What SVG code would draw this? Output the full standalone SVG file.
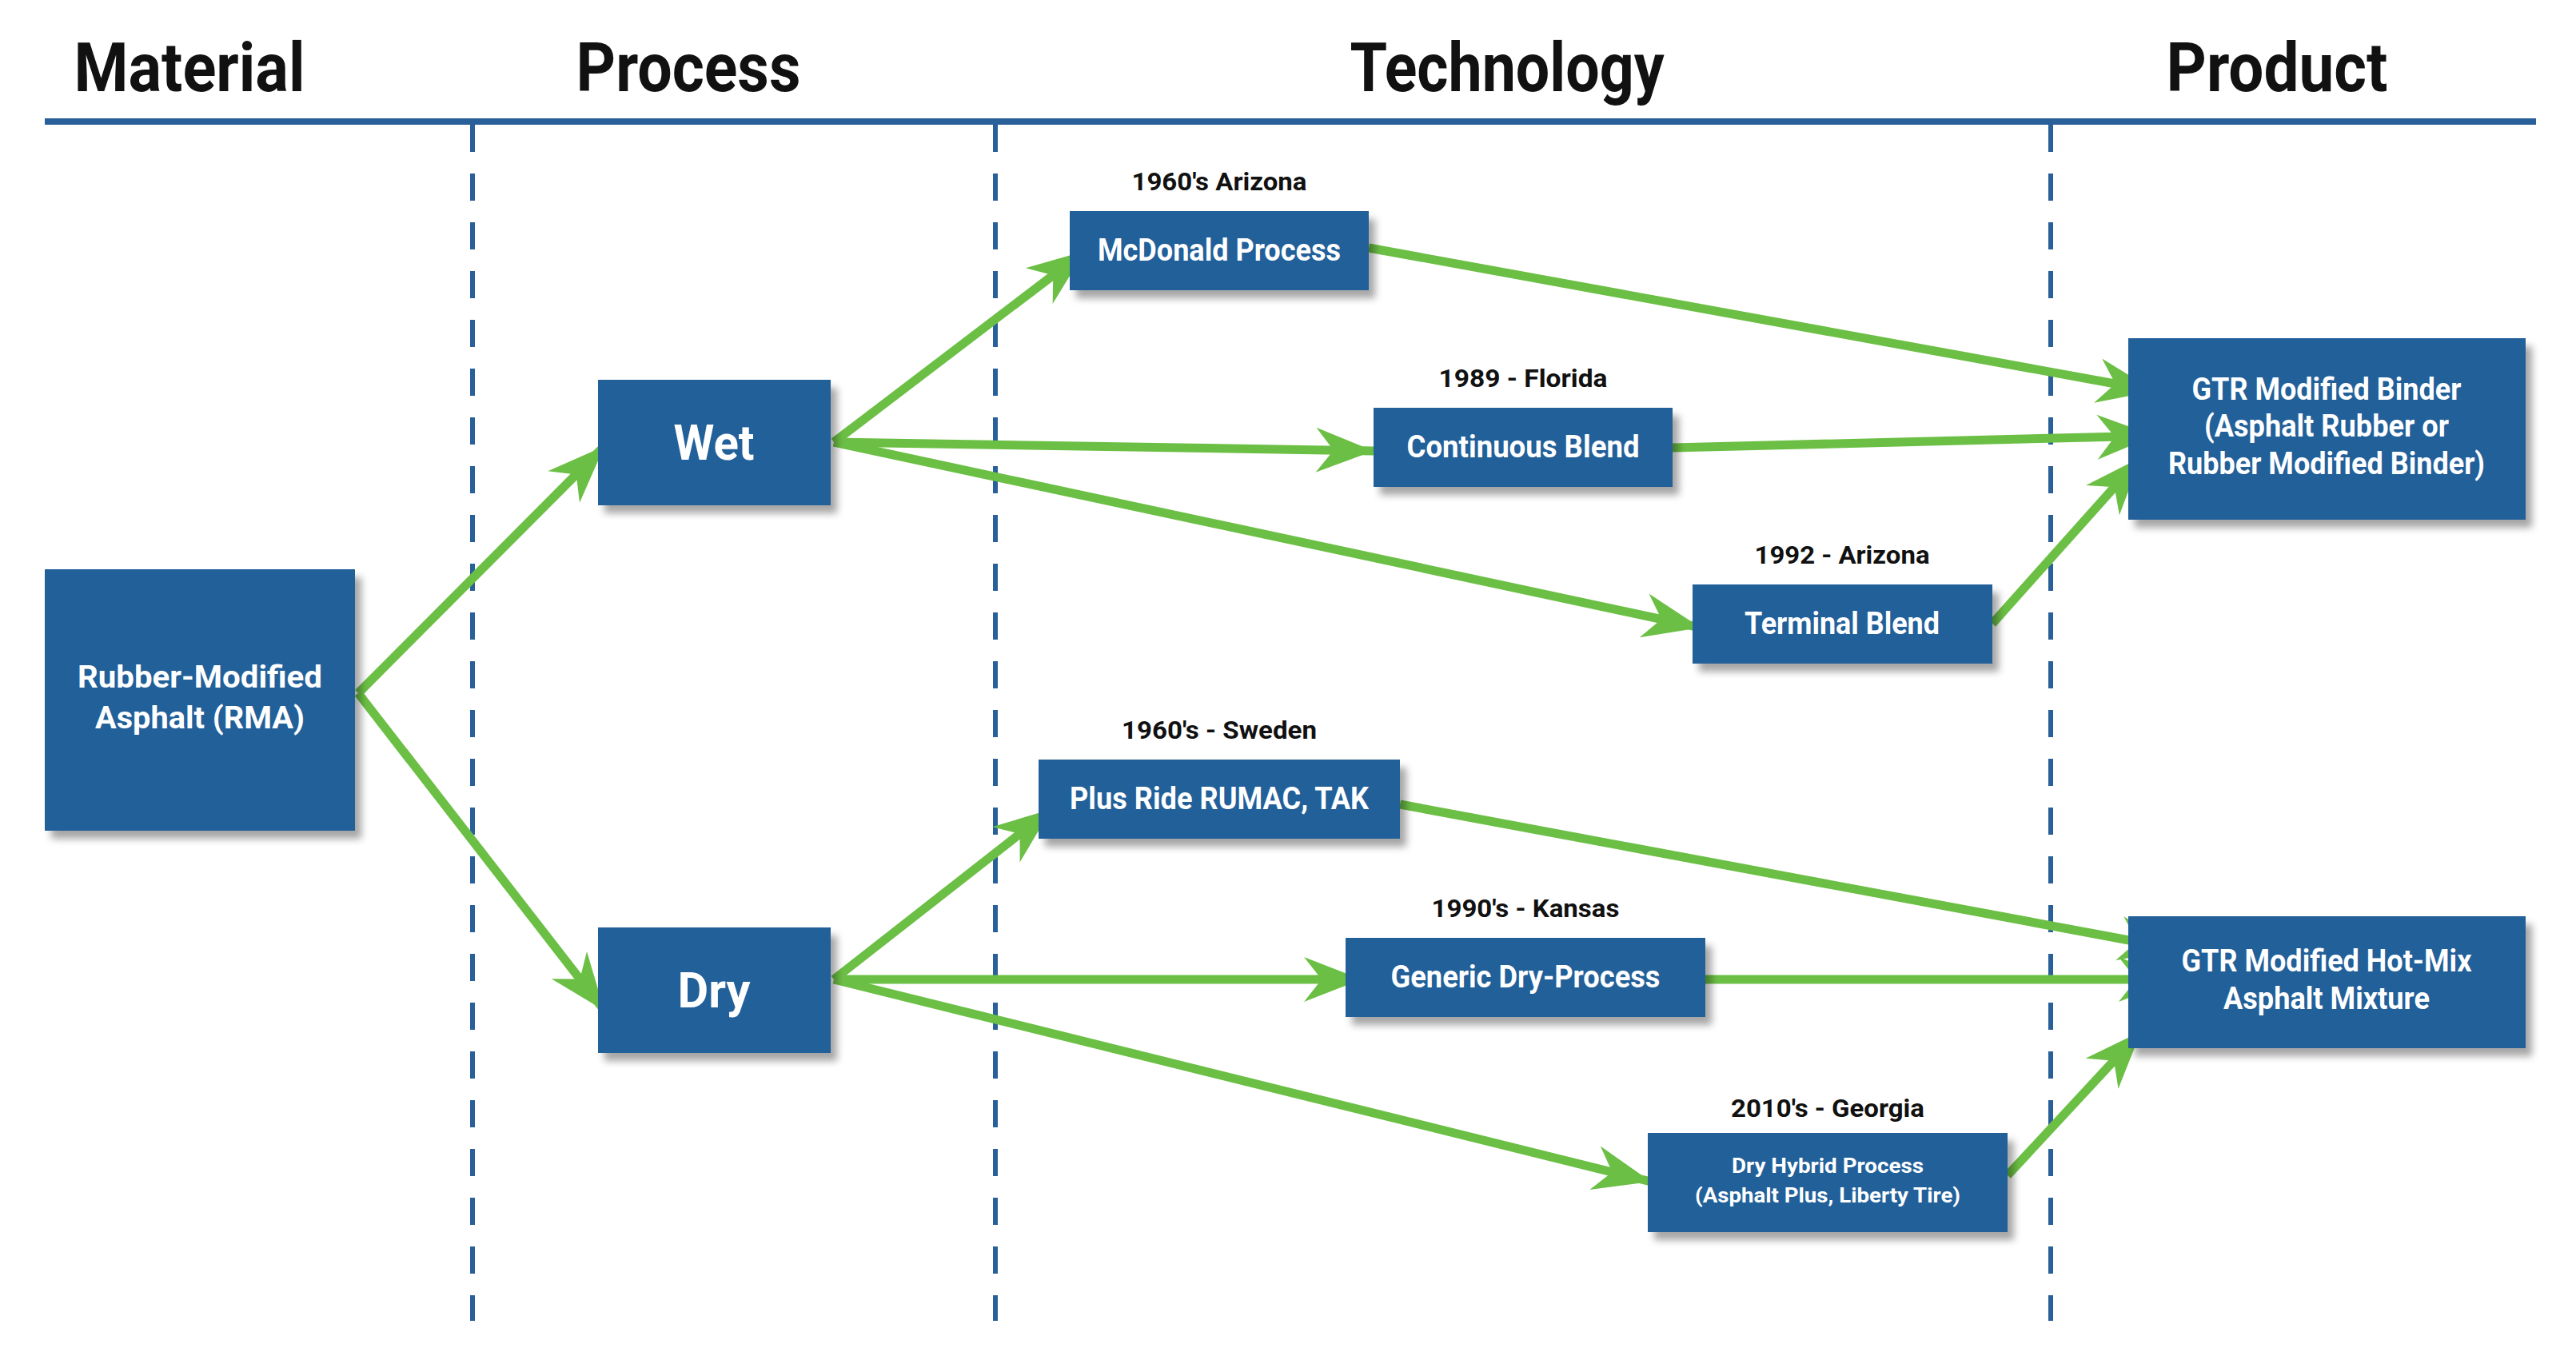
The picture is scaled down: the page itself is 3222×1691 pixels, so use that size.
<svg xmlns="http://www.w3.org/2000/svg" width="3222" height="1691" viewBox="0 0 3222 1691">
<style>
text{font-family:Roboto,"Liberation Sans",sans-serif;font-weight:bold;text-anchor:middle}
.h{font-size:86px;fill:#111}
.b{font-size:38px;fill:#fff}
.big{font-size:62px;fill:#fff}
.s{font-size:26px;fill:#fff}
.l{font-size:32px;fill:#111}
.box{fill:#23609a;filter:url(#sh)}
.dash{stroke:#2a6099;stroke-width:6;stroke-dasharray:34 27}
.c{stroke:#6cbf45;stroke-width:11;fill:none;marker-end:url(#ah)}
</style>
<defs>
<filter id="sh" x="-10%" y="-10%" width="130%" height="140%"><feDropShadow dx="8" dy="10" stdDeviation="5" flood-color="#000" flood-opacity="0.35"/></filter>
<marker id="ah" markerUnits="userSpaceOnUse" markerWidth="90" markerHeight="70" viewBox="-75 -35 80 70" refX="0" refY="0" orient="auto"><path d="M0,0 L-72,-28 L-50,0 L-72,28 Z" fill="#6cbf45"/></marker>
</defs>
<rect width="3222" height="1691" fill="#fff"/>
<g id="headers">
<text class="h" x="237" y="114" textLength="289" lengthAdjust="spacingAndGlyphs">Material</text>
<text class="h" x="861" y="114" textLength="281" lengthAdjust="spacingAndGlyphs">Process</text>
<text class="h" x="1885" y="114" textLength="393" lengthAdjust="spacingAndGlyphs">Technology</text>
<text class="h" x="2848" y="114" textLength="277" lengthAdjust="spacingAndGlyphs">Product</text>
<line x1="56" y1="152" x2="3172" y2="152" stroke="#2a6099" stroke-width="8"/>
</g>
<g id="dividers">
<line class="dash" x1="591" y1="156" x2="591" y2="1652"/>
<line class="dash" x1="1245" y1="156" x2="1245" y2="1652"/>
<line class="dash" x1="2565" y1="156" x2="2565" y2="1652"/>
</g>
<g id="connectors">
<line class="c" x1="448" y1="867" x2="756" y2="558"/>
<line class="c" x1="448" y1="867" x2="756" y2="1264"/>
<line class="c" x1="1043" y1="553" x2="1357" y2="314"/>
<line class="c" x1="1043" y1="553" x2="1718" y2="564"/>
<line class="c" x1="1043" y1="553" x2="2127" y2="785"/>
<line class="c" x1="1712" y1="310" x2="2695" y2="489"/>
<line class="c" x1="2092" y1="560" x2="2695" y2="545"/>
<line class="c" x1="2492" y1="780" x2="2678" y2="572"/>
<line class="c" x1="1043" y1="1225" x2="1315" y2="1012"/>
<line class="c" x1="1043" y1="1225" x2="1703" y2="1225"/>
<line class="c" x1="1043" y1="1225" x2="2065" y2="1478"/>
<line class="c" x1="1751" y1="1006" x2="2722" y2="1187"/>
<line class="c" x1="2133" y1="1225" x2="2722" y2="1225"/>
<line class="c" x1="2511" y1="1470" x2="2678" y2="1290"/>
</g>
<g id="rma"><rect class="box" x="56" y="712" width="388" height="327"/>
<text class="b" x="250" y="860" textLength="306" lengthAdjust="spacingAndGlyphs">Rubber-Modified</text>
<text class="b" x="250" y="911" textLength="262" lengthAdjust="spacingAndGlyphs">Asphalt (RMA)</text></g>
<g id="wet"><rect class="box" x="748" y="475" width="291" height="157"/>
<text class="big" x="893" y="575" textLength="101" lengthAdjust="spacingAndGlyphs">Wet</text></g>
<g id="dry"><rect class="box" x="748" y="1160" width="291" height="157"/>
<text class="big" x="893" y="1260" textLength="91" lengthAdjust="spacingAndGlyphs">Dry</text></g>
<g id="mcdonald"><rect class="box" x="1338" y="264" width="374" height="99"/>
<text class="l" x="1525" y="238" textLength="219" lengthAdjust="spacingAndGlyphs">1960's Arizona</text>
<text class="b" x="1525" y="326" textLength="304" lengthAdjust="spacingAndGlyphs">McDonald Process</text></g>
<g id="continuous"><rect class="box" x="1718" y="510" width="374" height="99"/>
<text class="l" x="1905" y="484" textLength="211" lengthAdjust="spacingAndGlyphs">1989 - Florida</text>
<text class="b" x="1905" y="572" textLength="291" lengthAdjust="spacingAndGlyphs">Continuous Blend</text></g>
<g id="terminal"><rect class="box" x="2117" y="731" width="375" height="99"/>
<text class="l" x="2304" y="705" textLength="219" lengthAdjust="spacingAndGlyphs">1992 - Arizona</text>
<text class="b" x="2304" y="793" textLength="244" lengthAdjust="spacingAndGlyphs">Terminal Blend</text></g>
<g id="plusride"><rect class="box" x="1299" y="950" width="452" height="99"/>
<text class="l" x="1525" y="924" textLength="244" lengthAdjust="spacingAndGlyphs">1960's - Sweden</text>
<text class="b" x="1525" y="1012" textLength="374" lengthAdjust="spacingAndGlyphs">Plus Ride RUMAC, TAK</text></g>
<g id="generic"><rect class="box" x="1683" y="1173" width="450" height="99"/>
<text class="l" x="1908" y="1147" textLength="235" lengthAdjust="spacingAndGlyphs">1990's - Kansas</text>
<text class="b" x="1908" y="1235" textLength="337" lengthAdjust="spacingAndGlyphs">Generic Dry-Process</text></g>
<g id="hybrid"><rect class="box" x="2061" y="1417" width="450" height="124"/>
<text class="l" x="2286" y="1397" textLength="242" lengthAdjust="spacingAndGlyphs">2010's - Georgia</text>
<text class="s" x="2286" y="1467" textLength="240" lengthAdjust="spacingAndGlyphs">Dry Hybrid Process</text>
<text class="s" x="2286" y="1504" textLength="332" lengthAdjust="spacingAndGlyphs">(Asphalt Plus, Liberty Tire)</text></g>
<g id="binder"><rect class="box" x="2662" y="423" width="497" height="227"/>
<text class="b" x="2910" y="500" textLength="337" lengthAdjust="spacingAndGlyphs">GTR Modified Binder</text>
<text class="b" x="2910" y="546" textLength="306" lengthAdjust="spacingAndGlyphs">(Asphalt Rubber or</text>
<text class="b" x="2910" y="593" textLength="396" lengthAdjust="spacingAndGlyphs">Rubber Modified Binder)</text></g>
<g id="hotmix"><rect class="box" x="2662" y="1146" width="497" height="165"/>
<text class="b" x="2910" y="1215" textLength="363" lengthAdjust="spacingAndGlyphs">GTR Modified Hot-Mix</text>
<text class="b" x="2910" y="1262" textLength="258" lengthAdjust="spacingAndGlyphs">Asphalt Mixture</text></g>
</svg>
